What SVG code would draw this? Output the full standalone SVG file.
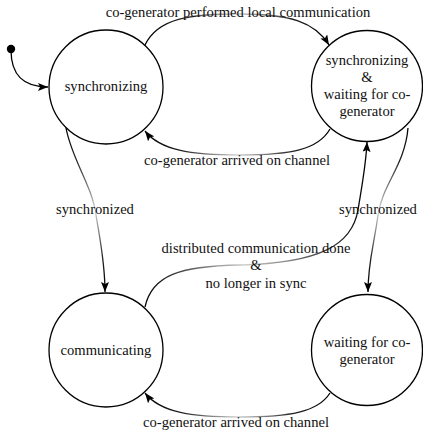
<svg xmlns="http://www.w3.org/2000/svg" width="423" height="430" viewBox="0 0 423 430" font-family="'Liberation Serif', 'Times New Roman', 'DejaVu Serif', serif">
<style>
  .node circle { fill: #fff; stroke: #000; stroke-width: 1.3; }
  text { font-family: 'Liberation Serif', 'Times New Roman', 'DejaVu Serif', serif; font-size: 14.6px; fill: #111; text-anchor: middle; }
  .edge { fill: none; stroke-width: 1.3; }
  .h { stroke: url(#gh); }
  .v { stroke: url(#gv); }
  .e5 { stroke: url(#g5); }
</style>
<defs>
  <linearGradient id="gh" x1="0" y1="0" x2="1" y2="0">
    <stop offset="0" stop-color="#000"/>
    <stop offset="0.2" stop-color="#222"/>
    <stop offset="0.5" stop-color="#d0d0d0"/>
    <stop offset="0.8" stop-color="#222"/>
    <stop offset="1" stop-color="#000"/>
  </linearGradient>
  <linearGradient id="gv" x1="0" y1="0" x2="0" y2="1">
    <stop offset="0" stop-color="#000"/>
    <stop offset="0.2" stop-color="#222"/>
    <stop offset="0.5" stop-color="#d0d0d0"/>
    <stop offset="0.8" stop-color="#222"/>
    <stop offset="1" stop-color="#000"/>
  </linearGradient>
  <linearGradient id="g5" x1="0" y1="0" x2="1" y2="0">
    <stop offset="0" stop-color="#000"/>
    <stop offset="0.08" stop-color="#222"/>
    <stop offset="0.45" stop-color="#d0d0d0"/>
    <stop offset="0.88" stop-color="#222"/>
    <stop offset="1" stop-color="#000"/>
  </linearGradient>
  <marker id="arrow" markerWidth="11" markerHeight="8" refX="10" refY="4" orient="auto" markerUnits="userSpaceOnUse">
    <path d="M0,0 L10,4 L0,8 L2,4 z" fill="#000"/>
  </marker>
</defs>

<g id="connectors">
  <circle cx="11" cy="49" r="4.2" fill="#000"/>
  <path class="edge" stroke="#000" d="M11,50 C11,76 24,87 48,87" marker-end="url(#arrow)"/>
  <path class="edge h" d="M145,45 C158,18 190,14 240,14 C290,14 315,22 329,45" marker-end="url(#arrow)"/>
  <path class="edge h" d="M330,129 C318,150 290,155 240,155 C190,155 160,150 145,131" marker-end="url(#arrow)"/>
  <path class="edge v" d="M66,128 C72,160 92,185 96,215 C100,240 105,262 105,292" marker-end="url(#arrow)"/>
  <path class="edge v" d="M408,128 C405,165 382,185 378,215 C374,245 368,262 368,292" marker-end="url(#arrow)"/>
  <path class="edge e5" d="M145,307 C152,275 180,266 240,265 C320,263 352,245 358,210 C362,185 366,165 367,142" marker-end="url(#arrow)"/>
  <path class="edge h" d="M330,393 C318,412 290,417 240,417 C190,417 160,412 145,393" marker-end="url(#arrow)"/>
</g>

<g id="labels">
  <text x="238" y="17">co-generator performed local communication</text>
  <text x="237" y="165">co-generator arrived on channel</text>
  <text x="95" y="214">synchronized</text>
  <text x="378" y="214">synchronized</text>
  <text x="256" y="253">distributed communication done</text>
  <text x="256" y="270">&amp;</text>
  <text x="256" y="288">no longer in sync</text>
  <text x="236" y="427">co-generator arrived on channel</text>
</g>

<g id="node-synchronizing" class="node">
  <circle cx="106" cy="87" r="57"/>
  <text x="106" y="91">synchronizing</text>
</g>
<g id="node-sync-waiting" class="node">
  <circle cx="367" cy="86" r="55.5"/>
  <text x="367" y="65">synchronizing</text>
  <text x="367" y="82">&amp;</text>
  <text x="367" y="99">waiting for co-</text>
  <text x="367" y="116">generator</text>
</g>
<g id="node-communicating" class="node">
  <circle cx="106" cy="350" r="57"/>
  <text x="106" y="355">communicating</text>
</g>
<g id="node-waiting" class="node">
  <circle cx="367" cy="350" r="55.5"/>
  <text x="367" y="347">waiting for co-</text>
  <text x="367" y="364">generator</text>
</g>
</svg>
